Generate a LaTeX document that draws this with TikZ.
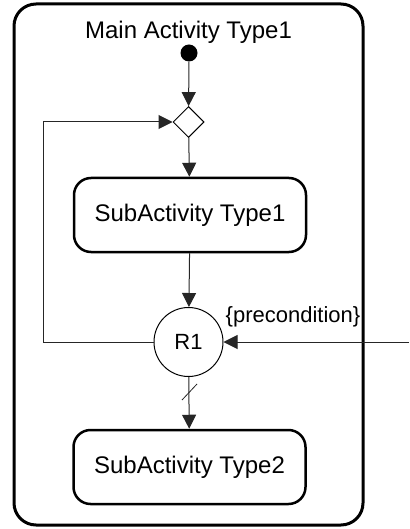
\documentclass[tikz,border=0pt]{standalone}
\usepackage{fontspec}
\setmainfont{Liberation Sans}
\usetikzlibrary{arrows.meta,shapes.geometric}
\begin{document}
\begin{tikzpicture}[x=1pt,y=-1pt,
  conn/.style={draw=black!85,line width=1pt,-{Triangle[length=14pt,width=14pt]}},
  line/.style={draw=black!85,line width=1pt},
  actbox/.style={draw,line width=2.5pt,rounded corners=17pt,minimum width=232pt,minimum height=74pt,inner sep=0pt,font=\fontsize{24}{28}\selectfont},
  frame/.style={draw,line width=3pt,rounded corners=22pt},
  decision/.style={diamond,draw,line width=1pt,minimum width=31pt,minimum height=31pt,inner sep=0pt},
  initial/.style={circle,fill=black,minimum size=17pt,inner sep=0pt},
  joinnode/.style={circle,draw,line width=1pt,minimum size=69pt,inner sep=0pt,font=\fontsize{22}{26}\selectfont},
  lbl/.style={inner sep=0pt,font=\fontsize{22}{26}\selectfont}]
\useasboundingbox (0,0) rectangle (409,529);
\draw[frame] (14,4) rectangle (363,525);
\node[inner sep=0pt,font=\fontsize{24}{28}\selectfont,anchor=base] (title) at (188.5,39) {Main Activity Type1};
\node[initial] (start) at (189,53) {};
\node[decision] (dec) at (188.5,122) {};
\node[actbox] (sa1) at (190,215) {SubActivity Type1};
\node[joinnode] (r1) at (188.5,342) {R1};
\node[actbox] (sa2) at (189.5,467) {SubActivity Type2};
\node[lbl,anchor=base] (pre) at (293,322) {\{precondition\}};
\coordinate (ext) at (409,342);
\coordinate (lb) at (43,342);
\coordinate (lt) at (43,122);
\coordinate (t1) at (182,400);
\coordinate (t2) at (197,384);
\draw[conn] (start) -- (dec);
\draw[conn] (dec) -- (sa1);
\draw[conn] (sa1) -- (r1);
\draw[conn] (r1) -- (sa2);
\draw[conn] (ext) -- (r1);
\draw[conn] (r1.west) -- (lb) -- (lt) -- (dec.west);
\draw[line,line width=0.8pt] (t1) -- (t2);
\end{tikzpicture}
\end{document}
